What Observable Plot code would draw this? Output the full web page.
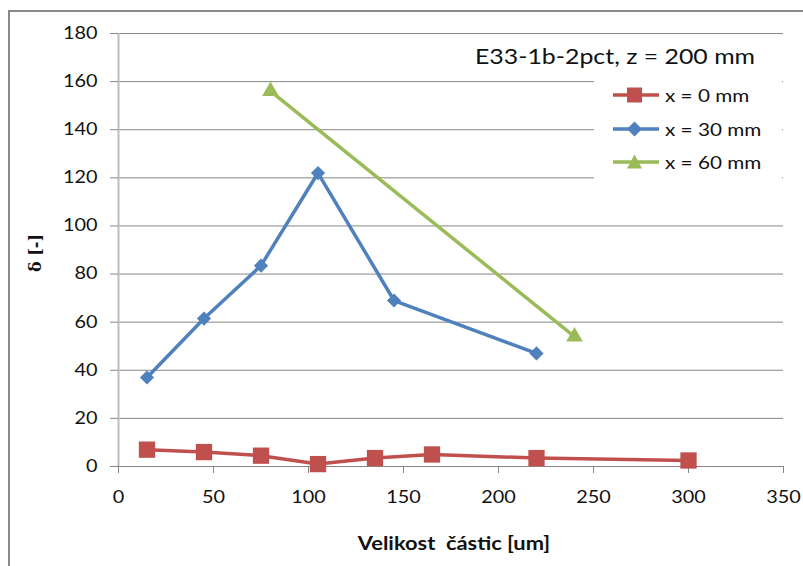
<!DOCTYPE html>
<html>
<head>
<meta charset="utf-8">
<script src="https://cdn.jsdelivr.net/npm/d3@7"></script>
<script src="https://cdn.jsdelivr.net/npm/@observablehq/plot@0.6"></script>
<style>
  html, body { margin: 0; padding: 0; background: #fff; }
  #wrap { position: relative; width: 803px; height: 566px; overflow: hidden; font-family: Lato, "Open Sans", sans-serif; color: #111; }
  #frame { position: absolute; left: 8px; top: 10px; width: 820px; height: 600px; border: 2px solid #8a8a8a; box-sizing: border-box; }
  #chart { position: absolute; left: 0; top: 0; }
  #title { position: absolute; left: 475px; top: 43px; font-size: 22px; line-height: 26px; white-space: nowrap; transform: scaleX(1.13); transform-origin: left center; }
  #legend { position: absolute; left: 594px; top: 74px; width: 188px; height: 110px; background: #fff; }
  .item { position: absolute; left: 0; width: 188px; height: 22px; white-space: nowrap; }
  .item svg { position: absolute; left: 17px; top: 0; }
  .item span { position: absolute; left: 71px; top: 0; font-size: 18px; line-height: 22px; transform: scaleX(1.15); transform-origin: left center; }
  #ylab { position: absolute; left: 35px; top: 253px; transform: translate(-50%, -50%) rotate(-90deg); font-size: 16px; font-weight: bold; white-space: nowrap; font-family: "DejaVu Serif", serif; }
  #xlab { position: absolute; left: 454px; top: 542px; transform: translate(-50%, -50%) scaleX(1.15); font-size: 19px; font-weight: bold; white-space: pre; }
</style>
</head>
<body>
<div id="wrap">
  <div id="frame"></div>
  <div id="chart"></div>
  <div id="title">E33-1b-2pct, z = 200 mm</div>
  <div id="legend"></div>
  <div id="ylab">δ [-]</div>
  <div id="xlab">Velikost  částic [um]</div>
</div>
<script>
// Particle size [um] and delta [-] for each measuring position
const sizes0 = [15, 45, 75, 105, 135, 165, 220, 300];
const delta0 = [7, 6, 4.5, 1, 3.5, 5, 3.5, 2.5];

const sizes30 = [15, 45, 75, 105, 145, 220];
const delta30 = [37, 61.5, 83.5, 122, 69, 47];

const sizes60 = [80, 240];
const delta60 = [156, 54];

const seriesNames = ["x = 0 mm", "x = 30 mm", "x = 60 mm"];
const seriesColors = ["#C0504D", "#4F81BD", "#9BBB59"];

const xTicks = [0, 50, 100, 150, 200, 250, 300, 350];
const yTicks = [0, 20, 40, 60, 80, 100, 120, 140, 160, 180];

const rows = [
  ...sizes0.map((s, i) => ({series: seriesNames[0], size: s, delta: delta0[i]})),
  ...sizes30.map((s, i) => ({series: seriesNames[1], size: s, delta: delta30[i]})),
  ...sizes60.map((s, i) => ({series: seriesNames[2], size: s, delta: delta60[i]}))
];
const bySeries = name => rows.filter(d => d.series === name);

const markerSpec = [
  {symbol: "square", r: 9.2},
  {symbol: "diamond2", r: 6.4},
  {symbol: "triangle", r: 6.2}
];

const marks = [
  Plot.gridY(yTicks.filter(t => t > 0), {stroke: "#868686", strokeOpacity: 1, strokeWidth: 1}),
  Plot.ruleX([0], {stroke: "#bdbdbd", strokeWidth: 2}),
  Plot.ruleY([0], {stroke: "#868686", strokeWidth: 1}),
  Plot.axisY({ticks: yTicks, tickSize: 8, tickPadding: 13, stroke: "#868686", fontSize: 16.7, fill: "#111", label: null}),
  Plot.axisX({ticks: xTicks, tickSize: 7, tickPadding: 18, stroke: "#868686", fontSize: 16.7, fill: "#111", label: null})
];
seriesNames.forEach((name, i) => {
  marks.push(Plot.line(bySeries(name), {x: "size", y: "delta", stroke: seriesColors[i], strokeWidth: 3.5}));
  marks.push(Plot.dot(bySeries(name), {x: "size", y: "delta", fill: seriesColors[i], symbol: markerSpec[i].symbol, r: markerSpec[i].r, stroke: "none"}));
});

const chart = Plot.plot({
  width: 803,
  height: 566,
  marginLeft: 118,
  marginRight: 20,
  marginTop: 33,
  marginBottom: 100,
  style: {fontFamily: 'Lato, "Open Sans", sans-serif', fontSize: "16.7px", background: "transparent"},
  x: {domain: [0, 350]},
  y: {domain: [0, 180]},
  marks
});

// Widen the tick labels horizontally around their own anchor point
chart.querySelectorAll('g[aria-label="x-axis tick label"] text, g[aria-label="y-axis tick label"] text').forEach(el => {
  const t = el.getAttribute("transform") || "";
  const xv = parseFloat(el.getAttribute("x"));
  const x = Number.isFinite(xv) ? xv : 0;
  el.setAttribute("transform", `${t} translate(${x},0) scale(1.19,1) translate(${-x},0)`.trim());
});
document.getElementById("chart").appendChild(chart);

// Legend entries: line segment with the series marker, then the name
const legend = document.getElementById("legend");
const legendShapes = [
  c => `<rect x="16" y="3.5" width="15" height="15" fill="${c}"/>`,
  c => `<path d="M23.5 3.5 L31 11 L23.5 18.5 L16 11 Z" fill="${c}"/>`,
  c => `<path d="M23.5 3.5 L31 17.5 L16 17.5 Z" fill="${c}"/>`
];
seriesNames.forEach((name, i) => {
  const div = document.createElement("div");
  div.className = "item";
  div.style.top = (10 + i * 33.7) + "px";
  div.innerHTML = `<svg width="50" height="22"><line x1="2" x2="48" y1="11" y2="11" stroke="${seriesColors[i]}" stroke-width="3.5"/>${legendShapes[i](seriesColors[i])}</svg><span>${name}</span>`;
  legend.appendChild(div);
});
</script>
</body>
</html>
